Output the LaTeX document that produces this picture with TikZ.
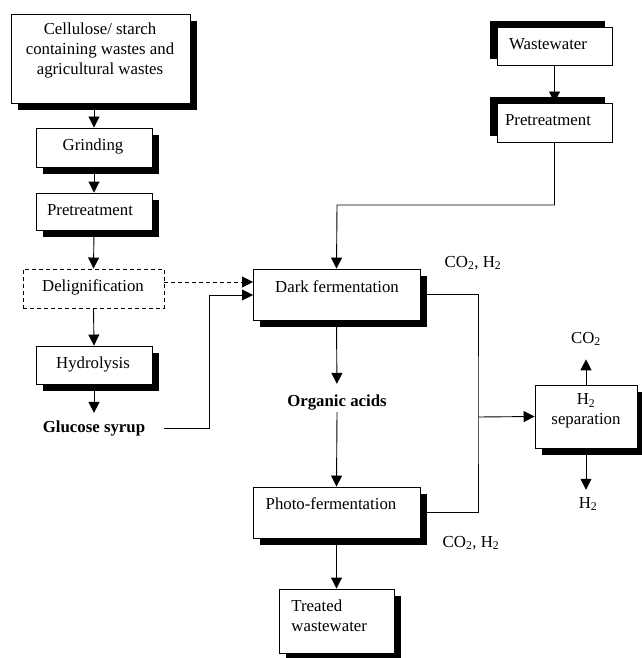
\documentclass[tikz,border=0pt]{standalone}
\usepackage{fontspec}
\setmainfont{Liberation Serif}
\usetikzlibrary{arrows.meta,shadows,calc}
\begin{document}
\begin{tikzpicture}[x=1pt,y=-1pt,
  font=\fontsize{16.8}{20}\selectfont,
  line width=0.9pt,
  box/.style={draw, fill=white, inner sep=0pt, line width=0.9pt,
    drop shadow={shadow xshift=7pt, shadow yshift=-7pt, fill=black, opacity=1}},
  lbox/.style={draw, fill=white, inner sep=0pt, line width=0.9pt,
    drop shadow={shadow xshift=-7pt, shadow yshift=6pt, fill=black, opacity=1}},
  dbox/.style={draw, dash pattern=on 4pt off 3pt, inner sep=0pt, line width=0.9pt},
  txt/.style={inner sep=1pt, align=center},
  arr/.style={-{Triangle[length=11pt,width=11pt]}},
]
\useasboundingbox (0,0) rectangle (641,658);

% left column
\node[box, minimum width=179pt, minimum height=89pt] (cel) at (100.5,58.5) {};
\node[txt] (celT) at (100,50) {Cellulose/ starch\\containing wastes and\\agricultural wastes};
\node[box, minimum width=116pt, minimum height=39pt] (grd) at (94,147.5) {};
\node[txt] (grdT) at (93,146) {Grinding};
\node[box, minimum width=116pt, minimum height=37pt] (pre1) at (94,211.5) {};
\node[txt] (pre1T) at (90,210) {Pretreatment};
\node[dbox, minimum width=141pt, minimum height=39pt] (del) at (93.5,288.5) {};
\node[txt] (delT) at (93,287) {Delignification};
\node[box, minimum width=116pt, minimum height=38pt] (hyd) at (94,365) {};
\node[txt] (hydT) at (93,364) {Hydrolysis};
\node[txt, font=\fontsize{16.8}{20}\selectfont\bfseries] (glu) at (94,428) {Glucose syrup};

% right top
\node[lbox, minimum width=115pt, minimum height=38pt] (ww) at (554.5,46) {};
\node[txt] (wwT) at (548,44) {Wastewater};
\node[lbox, minimum width=115pt, minimum height=39pt] (pre2) at (554.5,122.5) {};
\node[txt] (pre2T) at (548,120) {Pretreatment};

% middle column
\node[box, minimum width=167pt, minimum height=51pt] (df) at (336.5,294.5) {};
\node[txt] (dfT) at (337,287) {Dark fermentation};
\node[txt, font=\fontsize{16.8}{20}\selectfont\bfseries] (org) at (337,403) {Organic acids};
\node[box, minimum width=167pt, minimum height=51pt] (pf) at (336.5,512.5) {};
\node[txt] (pfT) at (331,504) {Photo-fermentation};
\node[box, minimum width=115pt, minimum height=64pt] (tw) at (336.5,621) {};
\node[txt, align=left, anchor=west] (twT) at (290,616) {Treated\\wastewater};

% gas labels
\node[txt] (g1) at (473,263) {CO\textsubscript{2}, H\textsubscript{2}};
\node[txt] (g2) at (471,543) {CO\textsubscript{2}, H\textsubscript{2}};

% H2 separation
\node[box, minimum width=102pt, minimum height=63pt] (h2s) at (586,416.5) {};
\node[txt] (h2sT) at (586,411) {H\textsubscript{2}\\separation};
\node[txt] (co2) at (586,339) {CO\textsubscript{2}};
\node[txt] (h2) at (588,504) {H\textsubscript{2}};

% coordinates
\coordinate (jx) at (209,295);
\coordinate (dfin1) at (253,282);
\coordinate (dfin2) at (253,295);
\coordinate (jt) at (337,205);
\coordinate (jr) at (478,417);

% connectors
\draw[arr] (grd.north |- cel.south) -- (grd.north);
\draw[arr] (grd.south) -- (pre1.north);
\draw[arr] (pre1.south) -- (del.north);
\draw[arr] (del.south) -- (hyd.north);
\draw[arr, shorten >=6pt] (hyd.south) -- (glu.north);
\draw[arr, dash pattern=on 4pt off 3pt] (del.east |- dfin1) -- (dfin1);
\draw[arr] ([xshift=17pt]glu.east) -| (jx) -- (dfin2);
\draw[arr] (ww.south) -- (pre2.north);
\draw[arr] (pre2.south) |- (jt) -- (df.north);
\draw[arr, shorten >=10pt] (df.south) -- (org.north);
\draw[arr] (org.south) -- (pf.north);
\draw[arr] (pf.south) -- (tw.north);
\draw (df.east) -| (jr) |- (pf.east);
\draw[arr] (jr) -- (h2s.west);
\draw[arr, shorten >=12pt] (h2s.north) -- (co2.south);
\draw[arr, shorten >=6pt] (h2s.south) -- (h2s.south |- h2.north);
\end{tikzpicture}
\end{document}
